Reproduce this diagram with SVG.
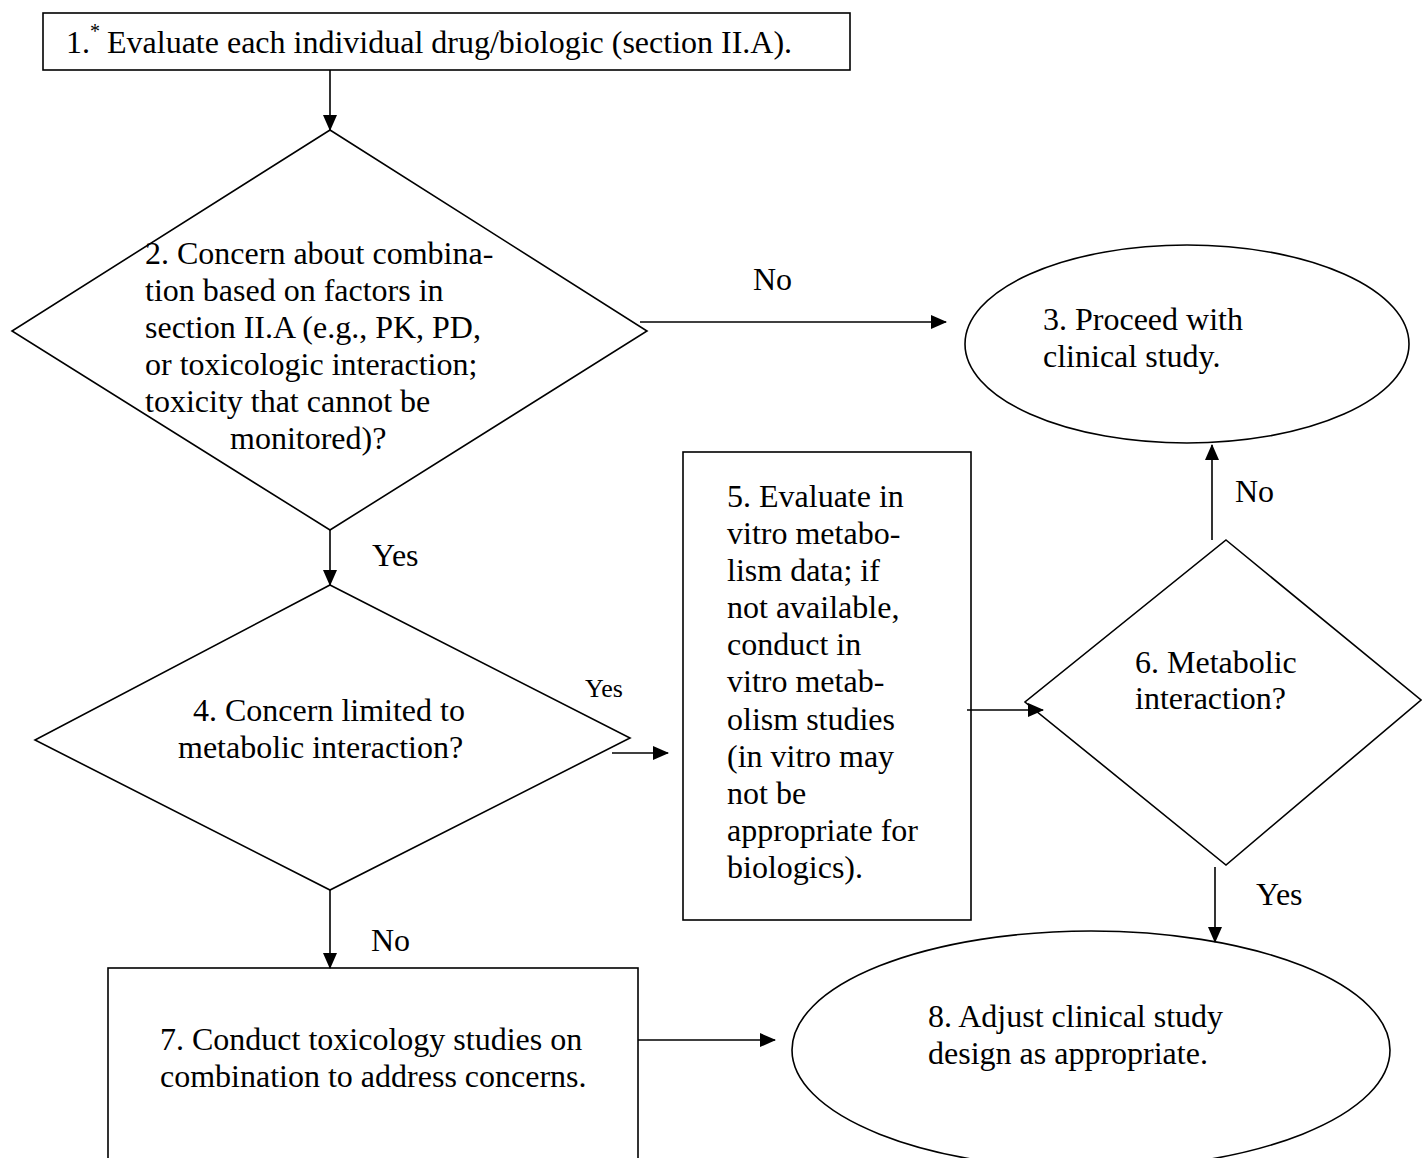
<svg xmlns="http://www.w3.org/2000/svg" width="1422" height="1158" viewBox="0 0 1422 1158">
<defs>
<style>
.s{fill:#fff;stroke:#000;stroke-width:1.6}
.t{font-family:"Liberation Serif","Times New Roman",serif;font-size:32px;fill:#000}
.c{stroke:#000;stroke-width:1.6;fill:none}
</style>
<marker id="ah" markerUnits="userSpaceOnUse" markerWidth="16" markerHeight="14" refX="15" refY="7" orient="auto">
<path d="M0,0 L16,7 L0,14 Z" fill="#000"/>
</marker>
</defs>
<rect width="1422" height="1158" fill="#fff"/>
<g id="n1">
<rect class="s" x="43" y="13" width="807" height="57"/>
<text class="t" x="66" y="53">1.</text>
<text class="t" x="90" y="38" style="font-size:20px">*</text>
<text class="t" x="107" y="53">Evaluate each individual drug/biologic (section II.A).</text>
</g>
<g id="n2">
<polygon class="s" points="330,130 647,331 330,530 12,331"/>
<text class="t" x="145" y="264">2. Concern about combina-</text>
<text class="t" x="145" y="301">tion based on factors in</text>
<text class="t" x="145" y="338">section II.A (e.g., PK, PD,</text>
<text class="t" x="145" y="375">or toxicologic interaction;</text>
<text class="t" x="145" y="412">toxicity that cannot be</text>
<text class="t" x="230" y="449">monitored)?</text>
</g>
<g id="n3">
<ellipse class="s" cx="1187" cy="344" rx="222" ry="99"/>
<text class="t" x="1043" y="330">3. Proceed with</text>
<text class="t" x="1043" y="367">clinical study.</text>
</g>
<g id="n4">
<polygon class="s" points="330,585 630,738 330,890 35,740"/>
<text class="t" x="193" y="721">4. Concern limited to</text>
<text class="t" x="178" y="758">metabolic interaction?</text>
</g>
<g id="n5">
<rect class="s" x="683" y="452" width="288" height="468"/>
<text class="t" x="727" y="507">5. Evaluate in</text>
<text class="t" x="727" y="544">vitro metabo-</text>
<text class="t" x="727" y="581">lism data; if</text>
<text class="t" x="727" y="618">not available,</text>
<text class="t" x="727" y="655">conduct in</text>
<text class="t" x="727" y="692">vitro metab-</text>
<text class="t" x="727" y="730">olism studies</text>
<text class="t" x="727" y="767">(in vitro may</text>
<text class="t" x="727" y="804">not be</text>
<text class="t" x="727" y="841">appropriate for</text>
<text class="t" x="727" y="878">biologics).</text>
</g>
<g id="n6">
<polygon class="s" points="1226,540 1421,700 1226,865 1025,702"/>
<text class="t" x="1135" y="673">6. Metabolic</text>
<text class="t" x="1135" y="709">interaction?</text>
</g>
<g id="n7">
<rect class="s" x="108" y="968" width="530" height="200"/>
<text class="t" x="160" y="1050">7. Conduct toxicology studies on</text>
<text class="t" x="160" y="1087">combination to address concerns.</text>
</g>
<g id="n8">
<ellipse class="s" cx="1091" cy="1050" rx="299" ry="119"/>
<text class="t" x="928" y="1027">8. Adjust clinical study</text>
<text class="t" x="928" y="1064">design as appropriate.</text>
</g>
<g id="connectors">
<line class="c" x1="330" y1="70" x2="330" y2="130" marker-end="url(#ah)"/>
<line class="c" x1="640" y1="322" x2="946" y2="322" marker-end="url(#ah)"/>
<text class="t" x="753" y="290">No</text>
<line class="c" x1="330" y1="530" x2="330" y2="585" marker-end="url(#ah)"/>
<text class="t" x="372" y="566">Yes</text>
<line class="c" x1="612" y1="753" x2="668" y2="753" marker-end="url(#ah)"/>
<text class="t" x="585" y="697" style="font-size:26px">Yes</text>
<line class="c" x1="967" y1="710" x2="1043" y2="710" marker-end="url(#ah)"/>
<line class="c" x1="1212" y1="540" x2="1212" y2="445" marker-end="url(#ah)"/>
<text class="t" x="1235" y="502">No</text>
<line class="c" x1="1215" y1="867" x2="1215" y2="942" marker-end="url(#ah)"/>
<text class="t" x="1256" y="905">Yes</text>
<line class="c" x1="330" y1="890" x2="330" y2="968" marker-end="url(#ah)"/>
<text class="t" x="371" y="951">No</text>
<line class="c" x1="638" y1="1040" x2="775" y2="1040" marker-end="url(#ah)"/>
</g>
</svg>
